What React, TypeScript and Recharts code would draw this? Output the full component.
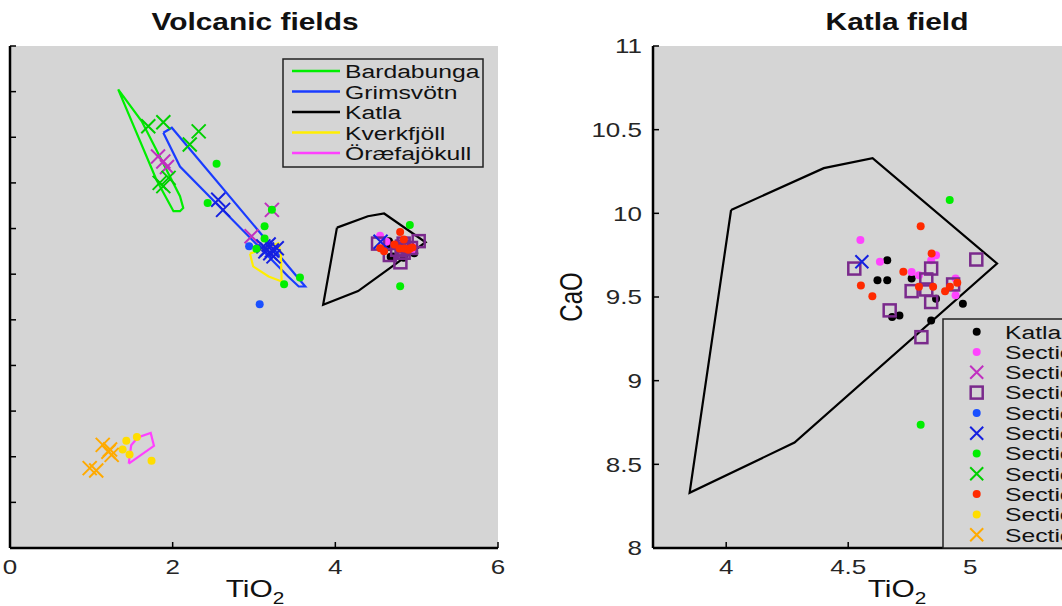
import { CartesianGrid, Scatter, ScatterChart, XAxis, YAxis } from "recharts"

type Pt = [number, number] // [TiO2, CaO]

// field outlines
const bardabungaOutline: Pt[] = [
  [1.33, 13.05], [1.62, 12.35], [2.09, 10.71], [2.13, 10.45], [2.09, 10.38],
  [2.01, 10.38], [1.8, 11.07], [1.33, 13.05],
]
const grimsvotnOutline: Pt[] = [
  [1.885, 12.1], [1.99, 12.21], [3.63, 8.73], [3.55, 8.73], [3.42, 8.95],
  [2.09, 11.36], [1.885, 12.1],
]
const katlaOutline: Pt[] = [
  [4.02, 10.02], [4.4, 10.27], [4.6, 10.33], [5.11, 9.7], [4.28, 8.63],
  [3.85, 8.33], [4.02, 10.02],
]
const kverkfjollOutline: Pt[] = [
  [2.95, 9.45], [2.99, 9.17], [3.18, 8.95], [3.34, 8.84], [3.33, 9.45],
  [3.3, 9.68], [2.95, 9.45],
]
const oraefaOutline: Pt[] = [
  [1.46, 4.85], [1.49, 5.25], [1.57, 5.42], [1.73, 5.52], [1.77, 5.24], [1.46, 4.85],
]

// tephra samples
const katlaPts: Pt[] = [
  [4.66, 9.72], [4.62, 9.6], [4.66, 9.6], [4.76, 9.61], [4.86, 9.49],
  [4.97, 9.46], [4.68, 9.38], [4.71, 9.39], [4.84, 9.36],
]
const pinkDots: Pt[] = [
  [4.55, 9.84], [4.63, 9.71], [4.76, 9.65], [4.79, 9.63], [4.86, 9.75],
  [4.84, 9.72], [4.94, 9.61], [4.94, 9.51],
]
const pinkCrosses: Pt[] = [
  [1.82, 11.58], [1.885, 11.47], [1.93, 11.35], [3.22, 10.41], [2.97, 9.83],
]
const purpleSquares: Pt[] = [
  [4.525, 9.67], [4.84, 9.67], [4.82, 9.605], [4.76, 9.535], [4.82, 9.545],
  [4.84, 9.47], [4.93, 9.575], [5.025, 9.724], [4.67, 9.42], [4.8, 9.26],
]
const blueDots: Pt[] = [[3.07, 8.34], [2.94, 9.61]]
const blueCrosses: Pt[] = [
  [2.56, 10.63], [2.62, 10.41], [3.16, 9.54], [3.2, 9.46], [3.115, 9.61],
  [3.28, 9.57], [3.24, 9.39], [3.18, 9.65], [3.22, 9.52], [3.14, 9.5], [4.556, 9.711],
]
const greenDots: Pt[] = [
  [2.54, 11.42], [2.43, 10.56], [3.13, 10.05], [3.22, 10.41], [3.13, 9.78],
  [3.03, 9.56], [3.565, 8.93], [3.37, 8.78], [4.916, 10.08], [4.797, 8.737],
]
const greenCrosses: Pt[] = [
  [1.7, 12.24], [1.885, 12.33], [2.32, 12.13], [2.21, 11.84], [1.84, 11.0],
  [1.95, 11.11], [1.885, 10.93],
]
const redDots: Pt[] = [
  [4.797, 9.923], [4.552, 9.568], [4.599, 9.505], [4.726, 9.651], [4.842, 9.76],
  [4.79, 9.561], [4.848, 9.561], [4.897, 9.535], [4.917, 9.561], [4.947, 9.585],
]
const yellowDots: Pt[] = [[1.43, 5.35], [1.56, 5.43], [1.385, 5.16], [1.47, 5.05], [1.74, 4.91]]
const orangeCrosses: Pt[] = [
  [1.14, 5.26], [1.21, 5.11], [1.25, 5.04], [1.23, 5.16], [0.98, 4.75], [1.06, 4.7],
]

const leftXTicks = [0, 2, 4, 6]
const leftYTicks = [3, 4, 5, 6, 7, 8, 9, 10, 11, 12, 13, 14]
const rightXTicks = [4, 4.5, 5, 5.5]
const rightYTicks = [8, 8.5, 9, 9.5, 10, 10.5, 11]

const fields = [
  { name: "Bardabunga", color: "#00ee00", outline: bardabungaOutline },
  { name: "Grimsvötn", color: "#1a3cff", outline: grimsvotnOutline },
  { name: "Katla", color: "#000000", outline: katlaOutline },
  { name: "Kverkfjöll", color: "#ffee00", outline: kverkfjollOutline },
  { name: "Öræfajökull", color: "#ff40ff", outline: oraefaOutline },
]

type Kind = "dot" | "x" | "sq"
const samples: { name: string; color: string; kind: Kind; points: Pt[] }[] = [
  { name: "Katla", color: "#000000", kind: "dot", points: katlaPts },
  { name: "Section 1", color: "#ff44ff", kind: "dot", points: pinkDots },
  { name: "Section 2", color: "#c030c0", kind: "x", points: pinkCrosses },
  { name: "Section 3", color: "#7a2a8c", kind: "sq", points: purpleSquares },
  { name: "Section 4", color: "#1a50ff", kind: "dot", points: blueDots },
  { name: "Section 5", color: "#1520e0", kind: "x", points: blueCrosses },
  { name: "Section 6", color: "#00ee00", kind: "dot", points: greenDots },
  { name: "Section 7", color: "#00d000", kind: "x", points: greenCrosses },
  { name: "Section 8", color: "#ff2a00", kind: "dot", points: redDots },
  { name: "Section 9", color: "#ffdd00", kind: "dot", points: yellowDots },
  { name: "Section 10", color: "#ffaa00", kind: "x", points: orangeCrosses },
]

const BG = "#d5d5d5"
const SX = 1.3 // the figure is stretched sideways
const GAP = 11
const AXIS_W = 90

const toXY = (pts: Pt[]) => pts.map(([x, y]) => ({ x, y }))

function Marker({ kind, color, cx, cy, big }: { kind: Kind; color: string; cx: number; cy: number; big?: boolean }) {
  if (kind === "dot") return <circle cx={cx} cy={cy} r={4} fill={color} />
  if (kind === "x") {
    const h = big ? 7 : 6.5
    return (
      <path
        d={`M${cx - h},${cy - h}L${cx + h},${cy + h}M${cx - h},${cy + h}L${cx + h},${cy - h}`}
        stroke={color}
        strokeWidth={2}
      />
    )
  }
  return <rect x={cx - 6} y={cy - 6} width={12} height={12} fill="none" stroke={color} strokeWidth={2.5} />
}

function BottomTick(props: any) {
  const { x, y, payload } = props
  const axisY = y - GAP
  return (
    <g>
      <line x1={x} x2={x} y1={axisY} y2={axisY - 6} stroke="#000" strokeWidth={1.5} />
      <text transform={`translate(${x},${y}) scale(${SX},1)`} textAnchor="middle" dy="0.75em" fontSize={20} fill="#262626">
        {payload.value}
      </text>
    </g>
  )
}

function SideTick(props: any) {
  const { x, y, payload, showLabel } = props
  const axisX = x + GAP
  return (
    <g>
      <line x1={axisX} x2={axisX + 6} y1={y} y2={y} stroke="#000" strokeWidth={1.5} />
      {showLabel && (
        <text transform={`translate(${x},${y}) scale(${SX},1)`} textAnchor="end" dy="0.36em" fontSize={20} fill="#262626">
          {payload.value}
        </text>
      )}
    </g>
  )
}

function Panel(p: { left: number; xDomain: number[]; yDomain: number[]; xTicks: number[]; yTicks: number[]; yLabels: boolean; clip: boolean }) {
  return (
    <div style={{ position: "absolute", left: p.left - AXIS_W, top: 0 }}>
      <ScatterChart width={AXIS_W + 540} height={606} margin={{ top: 46, right: 52, bottom: 0, left: 0 }}>
        <CartesianGrid fill={BG} horizontal={false} vertical={false} stroke="none" />
        <XAxis
          type="number"
          dataKey="x"
          domain={p.xDomain}
          ticks={p.xTicks}
          interval={0}
          allowDataOverflow={p.clip}
          height={58}
          tickSize={0}
          tickMargin={GAP}
          axisLine={{ stroke: "#000", strokeWidth: 2.5 }}
          tick={(t: any) => <BottomTick {...t} />}
        />
        <YAxis
          type="number"
          dataKey="y"
          domain={p.yDomain}
          ticks={p.yTicks}
          interval={0}
          allowDataOverflow={p.clip}
          width={AXIS_W}
          tickSize={0}
          tickMargin={GAP}
          axisLine={{ stroke: "#000", strokeWidth: 2.5 }}
          tick={(t: any) => <SideTick {...t} showLabel={p.yLabels} />}
        />
        {fields.map((f) => (
          <Scatter
            key={f.name}
            data={toXY(f.outline)}
            line={{ stroke: f.color, strokeWidth: 2.2 }}
            lineType="joint"
            shape={() => <g />}
            isAnimationActive={false}
          />
        ))}
        {samples.map((s) => (
          <Scatter
            key={s.name}
            data={toXY(s.points)}
            shape={(d: any) => <Marker kind={s.kind} color={s.color} cx={d.cx} cy={d.cy} big={!p.clip} />}
            isAnimationActive={false}
          />
        ))}
      </ScatterChart>
    </div>
  )
}

function Txt(p: { x: number; y: number; size: number; bold?: boolean; anchor?: string; rotate?: boolean; children: any }) {
  const tf = `translate(${p.x},${p.y}) scale(${SX},1)${p.rotate ? " rotate(-90)" : ""}`
  return (
    <text transform={tf} fontSize={p.size} fontWeight={p.bold ? "bold" : "normal"} textAnchor={p.anchor ?? "start"} fill="#111">
      {p.children}
    </text>
  )
}

function Overlay() {
  return (
    <svg width={1062} height={606} style={{ position: "absolute", left: 0, top: 0, pointerEvents: "none" }}>
      <Txt x={255} y={30} size={23} bold anchor="middle">Volcanic fields</Txt>
      <Txt x={897} y={30} size={23} bold anchor="middle">Katla field</Txt>
      <Txt x={255} y={597} size={23} anchor="middle">
        TiO<tspan dy={7} fontSize={16}>2</tspan>
      </Txt>
      <Txt x={897} y={597} size={23} anchor="middle">
        TiO<tspan dy={7} fontSize={16}>2</tspan>
      </Txt>
      <Txt x={582} y={297} size={24} anchor="middle" rotate>CaO</Txt>

      <rect x={283} y={59} width={200} height={108} fill={BG} stroke="#222" strokeWidth={1.5} />
      {fields.map((f, i) => (
        <g key={f.name}>
          <line x1={292} x2={340} y1={71 + i * 20.5} y2={71 + i * 20.5} stroke={f.color} strokeWidth={2.5} />
          <Txt x={345} y={78 + i * 20.5} size={19}>{f.name}</Txt>
        </g>
      ))}

      <rect x={943} y={319} width={200} height={229} fill={BG} stroke="#222" strokeWidth={1.5} />
      {samples.map((s, i) => (
        <g key={s.name}>
          <Marker kind={s.kind} color={s.color} cx={976.7} cy={331.7 + i * 20.3} />
          <Txt x={1005} y={338.5 + i * 20.3} size={19}>{s.name}</Txt>
        </g>
      ))}
    </svg>
  )
}

export default function App() {
  return (
    <div
      style={{
        position: "fixed",
        left: 0,
        top: 0,
        width: 1062,
        height: 606,
        overflow: "hidden",
        background: "#fff",
        fontFamily: '"Liberation Sans", Arial, sans-serif',
      }}
    >
      <Panel left={10} xDomain={[0, 6]} yDomain={[3, 14]} xTicks={leftXTicks} yTicks={leftYTicks} yLabels={false} clip={false} />
      <Panel left={653} xDomain={[3.7, 5.7]} yDomain={[8, 11]} xTicks={rightXTicks} yTicks={rightYTicks} yLabels clip />
      <Overlay />
    </div>
  )
}
